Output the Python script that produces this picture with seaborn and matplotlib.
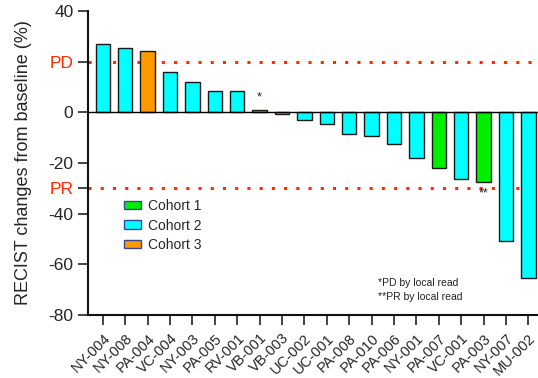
import matplotlib
matplotlib.use("Agg")
import matplotlib.pyplot as plt
import seaborn as sns
import pandas as pd

# Per-patient best change in tumour burden (RECIST), sorted waterfall order
patients = ["NY-004", "NY-008", "PA-004", "VC-004", "NY-003", "PA-005", "RV-001",
            "VB-001", "VB-003", "UC-002", "UC-001", "PA-008", "PA-010", "PA-006",
            "NY-001", "PA-007", "VC-001", "PA-003", "NY-007", "MU-002"]
change_pct = [27.0, 25.4, 24.4, 16.1, 12.1, 8.6, 8.6,
              1.0, -0.5, -3.0, -4.6, -8.5, -9.3, -12.6,
              -18.0, -21.9, -26.2, -27.5, -50.7, -65.5]
cohort = ["Cohort 2", "Cohort 2", "Cohort 3", "Cohort 2", "Cohort 2", "Cohort 2", "Cohort 2",
          "Cohort 3", "Cohort 2", "Cohort 2", "Cohort 2", "Cohort 2", "Cohort 2", "Cohort 2",
          "Cohort 2", "Cohort 1", "Cohort 2", "Cohort 1", "Cohort 2", "Cohort 2"]
cohort_order = ["Cohort 1", "Cohort 2", "Cohort 3"]
cohort_colors = ["#00EE00", "#00FFFF", "#FF9900"]

y_ticks = [40, 20, 0, -20, -30, -40, -60, -80]
y_tick_labels = ["40", "PD", "0", "-20", "PR", "-40", "-60", "-80"]
pd_threshold = 20
pr_threshold = -30

df = pd.DataFrame({"patient": patients, "change": change_pct, "cohort": cohort})

sns.set_style("ticks")
plt.rcParams["font.family"] = ["Liberation Sans", "DejaVu Sans"]

W, H = 538, 378
fig = plt.figure(figsize=(W / 100, H / 100), dpi=100)
ax = fig.add_axes([88 / W, 1 - 315 / H, 450 / W, 304 / H])

sns.barplot(data=df, x="patient", y="change", hue="cohort", order=patients,
            hue_order=cohort_order, palette=cohort_colors, dodge=False,
            saturation=1, width=0.64, edgecolor="#1a1a1a", linewidth=1.0, ax=ax)

red = "#FF2A00"
dots = (0, (1, 3))
ax.axhline(pd_threshold, color=red, lw=2.2, ls=dots, dash_capstyle="butt", zorder=0.5)
ax.axhline(pr_threshold, color=red, lw=2.2, ls=dots, dash_capstyle="butt", zorder=0.5)
ax.axhline(0, color="black", lw=1.0, zorder=3)

ax.set_xlim(-0.66, 19.43)
ax.set_ylim(-80, 40)
ax.set_yticks(y_ticks)
ax.set_yticklabels(y_tick_labels, fontsize=12.5)
for lbl in ax.get_yticklabels():
    if lbl.get_text() in ("PD", "PR"):
        lbl.set_color(red)
ax.set_xticks(range(len(patients)))
ax.set_xticklabels(patients, rotation=45, ha="right", rotation_mode="anchor", fontsize=10.5)

ax.set_xlabel("")
ax.set_ylabel("RECIST changes from baseline (%)", fontsize=13, labelpad=12)

for side in ("top", "right"):
    ax.spines[side].set_visible(False)
for side in ("left", "bottom"):
    ax.spines[side].set_linewidth(1.5)
    ax.spines[side].set_color("#111111")
ax.tick_params(axis="both", length=7.5, width=1.1, color="#111111", direction="out")
ax.tick_params(axis="y", pad=3)
ax.tick_params(axis="x", pad=4)

# local-read markers
ax.text(patients.index("VB-001"), 6.0, "*", ha="center", va="center", fontsize=9, color="#222222")
ax.text(patients.index("PA-003"), -32.0, "**", ha="center", va="center", fontsize=9, color="#222222")
ax.text(12.3, -67.3, "*PD by local read", ha="left", va="center", fontsize=7.5, color="#222222")
ax.text(12.3, -72.9, "**PR by local read", ha="left", va="center", fontsize=7.5, color="#222222")

handles, labels = ax.get_legend_handles_labels()
for h in handles:
    h.set_edgecolor("#34489a")
    h.set_linewidth(1.0)
ax.legend(handles, labels, loc="upper left", bbox_to_anchor=((124 - 88) / 450, 1 - (199 - 11) / 304),
          frameon=False, fontsize=10, handlelength=1.25, handleheight=0.55,
          handletextpad=0.5, labelspacing=0.4, borderpad=0, borderaxespad=0)

fig.savefig("out.png", dpi=100)
